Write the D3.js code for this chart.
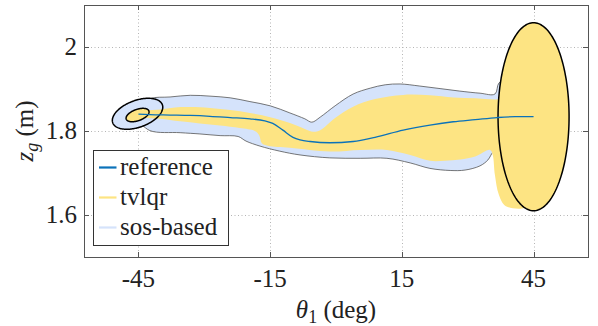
<!DOCTYPE html>
<html>
<head>
<meta charset="utf-8">
<script src="https://cdn.jsdelivr.net/npm/d3@7"></script>
</head>
<body style="margin:0">
<svg id="chart"></svg>
<script>
var WIDTH = 598;
var HEIGHT = 326;
var BOX = { left: 84, right: 588, top: 5, bottom: 257 };
var SERIF = "Liberation Serif";
var FS = 25;

// axis
var thetaDomain = [-57.4, 57.4];
var zDomain = [1.5, 2.1];
var thetaTicks = [-45, -15, 15, 45];
var zTicks = [1.6, 1.8, 2.0];
var zTickLabels = ["1.6", "1.8", "2"];
var legendLabels = ["reference", "tvlqr", "sos-based"];

// reference trajectory (deg, m)
var refTheta = [-45.0, -42.4, -37.8, -33.2, -28.7, -24.1, -19.6, -16.2, -14.4, -12.1, -9.8, -8.2, -5.9,
                -1.4, 3.9, 8.9, 15.3, 21.4, 26.7, 31.7, 36.7, 40.8, 45.0];
var refZ = [1.840, 1.839, 1.838, 1.837, 1.835, 1.832, 1.829, 1.824, 1.818, 1.802, 1.785, 1.779, 1.775,
            1.772, 1.775, 1.785, 1.802, 1.814, 1.822, 1.827, 1.832, 1.834, 1.834];

// sos-based funnel edges
var sosUpperTheta = [-45.2, -42.4, -37.8, -33.2, -28.7, -24.1, -19.6, -15.0, -10.5, -7.1, -5.5, -3.6, -0.2,
                     3.9, 7.8, 11.2, 14.6, 19.1, 23.7, 28.2, 32.8, 36.2, 37.1, 38.5];
var sosUpperZ = [1.855, 1.877, 1.881, 1.885, 1.883, 1.879, 1.870, 1.860, 1.843, 1.829, 1.821, 1.833, 1.860,
                 1.888, 1.902, 1.910, 1.912, 1.907, 1.901, 1.895, 1.890, 1.888, 1.914, 1.919];
var sosLowerTheta = [-45.2, -42.4, -35.5, -31.0, -26.4, -22.3, -20.5, -17.3, -12.8, -8.2, -1.4, 5.5, 11.6,
                     16.9, 21.4, 26.0, 29.4, 32.8, 34.6, 35.8, 37.1, 39.6];
var sosLowerZ = [1.826, 1.801, 1.796, 1.793, 1.789, 1.787, 1.776, 1.764, 1.752, 1.743, 1.736, 1.735, 1.735,
                 1.724, 1.711, 1.706, 1.707, 1.717, 1.731, 1.750, 1.755, 1.755];

// tvlqr funnel edges
var tvlqrUpperTheta = [-45.2, -43.5, -40.1, -36.7, -33.2, -28.7, -24.1, -19.6, -15.0, -10.5, -7.1, -5.2, -3.6,
                       -0.2, 3.9, 8.9, 15.3, 21.4, 26.7, 31.7, 36.2, 40.8, 44.2];
var tvlqrUpperZ = [1.843, 1.848, 1.851, 1.856, 1.857, 1.855, 1.850, 1.843, 1.833, 1.819, 1.805, 1.798, 1.802,
                   1.831, 1.858, 1.876, 1.886, 1.885, 1.880, 1.878, 1.875, 1.874, 1.624];
var tvlqrLowerTheta = [-45.2, -43.5, -40.1, -35.5, -31.0, -26.4, -21.9, -18.5, -17.5, -16.9, -15.5, -10.5,
                       -1.4, 5.5, 11.6, 16.9, 21.4, 24.8, 28.3, 31.7, 35.1, 35.7, 36.2, 37.1, 38.7];
var tvlqrLowerZ = [1.833, 1.831, 1.829, 1.823, 1.818, 1.813, 1.807, 1.800, 1.790, 1.771, 1.765, 1.760,
                   1.751, 1.755, 1.755, 1.743, 1.729, 1.729, 1.732, 1.739, 1.755, 1.743, 1.695, 1.648, 1.621];

// region ellipses: centre and two semi-axis vectors (deg, m)
var sosStartCenter = [-45.2, 1.841];
var sosStartAxes = [[5.65, 0.0215], [1.04, -0.030]];
var tvlqrStartCenter = [-45.2, 1.838];
var tvlqrStartAxes = [[2.58, 0.0098], [0.44, -0.0126]];
var tvlqrEndCenter = [45.0, 1.834];
var tvlqrEndAxes = [[8.09, 0], [0, 0.2238]];

var COLORS = { ref: "#0b72b9", tvlqr: "#fde483", sos: "#d5e3fb" };

function zip(xs, ys) {
    return xs.map(function(x, i) { return [x, ys[i]]; });
}

function ellipsePoints(c, axes) {
    return d3.range(0, 360, 2).map(function(deg) {
        var t = deg * Math.PI / 180;
        return [c[0] + axes[0][0] * Math.cos(t) + axes[1][0] * Math.sin(t),
                c[1] + axes[0][1] * Math.cos(t) + axes[1][1] * Math.sin(t)];
    });
}

function serif(sel, size) {
    return sel.attr("font-family", SERIF)
        .style("font-family", SERIF)
        .attr("font-size", size)
        .attr("fill", "#222");
}

function buildChart() {
    var svg = d3.select("#chart").attr("width", WIDTH).attr("height", HEIGHT);

    var x = d3.scaleLinear().domain(thetaDomain).range([BOX.left, BOX.right]);
    var y = d3.scaleLinear().domain(zDomain).range([BOX.bottom, BOX.top]);

    var smooth = d3.line()
        .x(function(d) { return x(d[0]); })
        .y(function(d) { return y(d[1]); })
        .curve(d3.curveCatmullRom.alpha(0.5));
    var closed = d3.line()
        .x(function(d) { return x(d[0]); })
        .y(function(d) { return y(d[1]); })
        .curve(d3.curveLinearClosed);

    // grid
    var grid = svg.append("g").attr("stroke", "#b5b5b5").attr("stroke-width", 1)
        .attr("stroke-dasharray", "1,2.5");
    grid.selectAll(".gx").data(thetaTicks).enter().append("line")
        .attr("x1", function(d) { return Math.round(x(d)) + 0.5; })
        .attr("x2", function(d) { return Math.round(x(d)) + 0.5; })
        .attr("y1", BOX.top).attr("y2", BOX.bottom);
    grid.selectAll(".gy").data(zTicks).enter().append("line")
        .attr("y1", function(d) { return Math.round(y(d)) + 0.5; })
        .attr("y2", function(d) { return Math.round(y(d)) + 0.5; })
        .attr("x1", BOX.left).attr("x2", BOX.right);

    // sos-based funnel
    var sosPoly = zip(sosUpperTheta, sosUpperZ).concat(zip(sosLowerTheta, sosLowerZ).reverse());
    svg.append("path")
        .attr("d", smooth(sosPoly) + "Z")
        .attr("fill", COLORS.sos)
        .attr("stroke", "#555")
        .attr("stroke-width", 0.8);
    svg.append("path")
        .attr("d", closed(ellipsePoints(sosStartCenter, sosStartAxes)))
        .attr("fill", COLORS.sos);

    // tvlqr funnel
    var tvPoly = zip(tvlqrUpperTheta, tvlqrUpperZ).concat(zip(tvlqrLowerTheta, tvlqrLowerZ).reverse());
    svg.append("path")
        .attr("d", smooth(tvPoly) + "Z")
        .attr("fill", COLORS.tvlqr);
    svg.append("path")
        .attr("d", closed(ellipsePoints(tvlqrStartCenter, tvlqrStartAxes)))
        .attr("fill", COLORS.tvlqr);
    svg.append("path")
        .attr("d", closed(ellipsePoints(tvlqrEndCenter, tvlqrEndAxes)))
        .attr("fill", COLORS.tvlqr);

    // ellipse outlines
    [[sosStartCenter, sosStartAxes], [tvlqrStartCenter, tvlqrStartAxes], [tvlqrEndCenter, tvlqrEndAxes]]
        .forEach(function(e) {
            svg.append("path")
                .attr("d", closed(ellipsePoints(e[0], e[1])))
                .attr("fill", "none")
                .attr("stroke", "#000")
                .attr("stroke-width", 1.5);
        });

    // reference
    svg.append("path")
        .attr("d", d3.line().x(function(d) { return x(d[0]); }).y(function(d) { return y(d[1]); })
            .curve(d3.curveMonotoneX)(zip(refTheta, refZ)))
        .attr("fill", "none")
        .attr("stroke", COLORS.ref)
        .attr("stroke-width", 1.3);

    // box and ticks
    var ax = svg.append("g").attr("stroke", "#555").attr("stroke-width", 1);
    ax.append("rect")
        .attr("x", BOX.left + 0.5).attr("y", BOX.top + 0.5)
        .attr("width", BOX.right - BOX.left).attr("height", BOX.bottom - BOX.top)
        .attr("fill", "none");
    var TL = 5;
    thetaTicks.forEach(function(t) {
        var px = Math.round(x(t)) + 0.5;
        ax.append("line").attr("x1", px).attr("x2", px).attr("y1", BOX.bottom).attr("y2", BOX.bottom - TL);
        ax.append("line").attr("x1", px).attr("x2", px).attr("y1", BOX.top).attr("y2", BOX.top + TL);
    });
    zTicks.forEach(function(t) {
        var py = Math.round(y(t)) + 0.5;
        ax.append("line").attr("y1", py).attr("y2", py).attr("x1", BOX.left).attr("x2", BOX.left + TL);
        ax.append("line").attr("y1", py).attr("y2", py).attr("x1", BOX.right).attr("x2", BOX.right - TL);
    });

    // tick labels
    serif(svg.selectAll(".xt").data(thetaTicks).enter().append("text"), FS)
        .attr("x", function(d) { return x(d); })
        .attr("y", 287)
        .attr("text-anchor", "middle")
        .text(function(d) { return d; });
    serif(svg.selectAll(".yt").data(zTicks).enter().append("text"), FS)
        .attr("x", 77)
        .attr("y", function(d) { return y(d) + 8; })
        .attr("text-anchor", "end")
        .text(function(d, i) { return zTickLabels[i]; });

    // axis labels
    var xl = serif(svg.append("text"), FS)
        .attr("x", (BOX.left + BOX.right) / 2)
        .attr("y", 318)
        .attr("text-anchor", "middle");
    xl.append("tspan").attr("font-style", "italic").text("θ");
    xl.append("tspan").attr("font-size", 18).attr("dy", 5).text("1");
    xl.append("tspan").attr("dy", -5).text("\u00a0(deg)");

    var yl = serif(svg.append("text"), FS)
        .attr("transform", "translate(33," + ((BOX.top + BOX.bottom) / 2) + ") rotate(-90)")
        .attr("text-anchor", "middle");
    yl.append("tspan").attr("font-style", "italic").text("z");
    yl.append("tspan").attr("font-style", "italic").attr("font-size", 18).attr("dy", 5).text("g");
    yl.append("tspan").attr("dy", -5).text("\u00a0(m)");

    // legend
    var lg = svg.append("g");
    lg.append("rect")
        .attr("x", 93.5).attr("y", 150.5).attr("width", 135).attr("height", 95)
        .attr("fill", "#fff").attr("stroke", "#333").attr("stroke-width", 1);
    var legendColors = [COLORS.ref, COLORS.tvlqr, COLORS.sos];
    legendLabels.forEach(function(name, i) {
        var by = 174.5 + i * 30;
        lg.append("line")
            .attr("x1", 99).attr("x2", 116.5)
            .attr("y1", by - 7).attr("y2", by - 7)
            .attr("stroke", legendColors[i]).attr("stroke-width", 2.2);
        serif(lg.append("text"), FS)
            .attr("x", 120).attr("y", by)
            .text(name);
    });
}

buildChart();
</script>
</body>
</html>
